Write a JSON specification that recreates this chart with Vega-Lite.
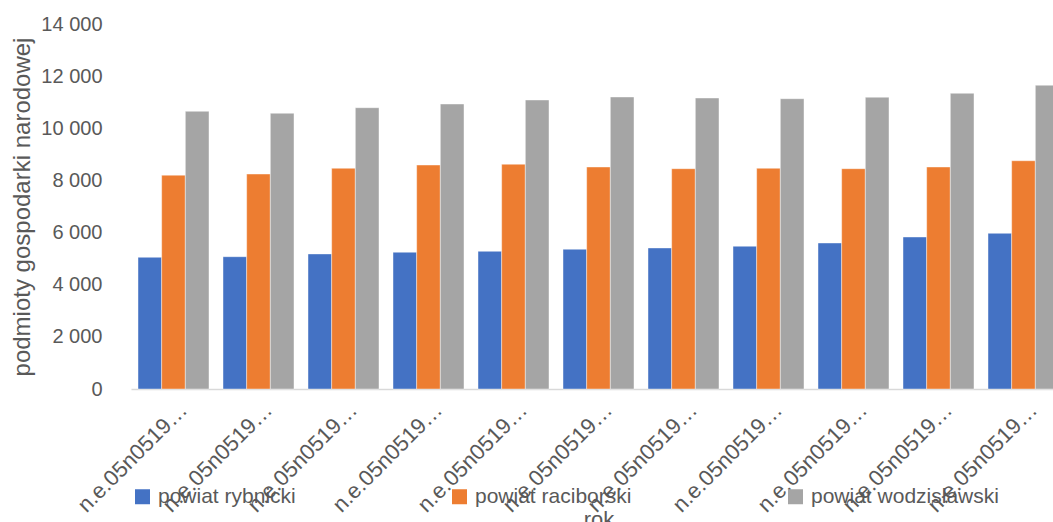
{
  "$schema": "https://vega.github.io/schema/vega-lite/v6.json",
  "autosize": "none",
  "width": 922,
  "height": 365,
  "padding": {"left": 131, "top": 24, "right": 0, "bottom": 133},
  "background": "#ffffff",
  "config": {
    "view": {"stroke": null},
    "font": "Liberation Sans"
  },
  "data": {
    "values": [
      {"rok": "1", "powiat": "powiat rybnicki", "podmioty": 5050},
      {"rok": "1", "powiat": "powiat raciborski", "podmioty": 8200},
      {"rok": "1", "powiat": "powiat wodzisławski", "podmioty": 10650},
      {"rok": "2", "powiat": "powiat rybnicki", "podmioty": 5075},
      {"rok": "2", "powiat": "powiat raciborski", "podmioty": 8245},
      {"rok": "2", "powiat": "powiat wodzisławski", "podmioty": 10575},
      {"rok": "3", "powiat": "powiat rybnicki", "podmioty": 5180},
      {"rok": "3", "powiat": "powiat raciborski", "podmioty": 8465},
      {"rok": "3", "powiat": "powiat wodzisławski", "podmioty": 10790},
      {"rok": "4", "powiat": "powiat rybnicki", "podmioty": 5245},
      {"rok": "4", "powiat": "powiat raciborski", "podmioty": 8590},
      {"rok": "4", "powiat": "powiat wodzisławski", "podmioty": 10930},
      {"rok": "5", "powiat": "powiat rybnicki", "podmioty": 5280},
      {"rok": "5", "powiat": "powiat raciborski", "podmioty": 8620},
      {"rok": "5", "powiat": "powiat wodzisławski", "podmioty": 11085},
      {"rok": "6", "powiat": "powiat rybnicki", "podmioty": 5360},
      {"rok": "6", "powiat": "powiat raciborski", "podmioty": 8515},
      {"rok": "6", "powiat": "powiat wodzisławski", "podmioty": 11200},
      {"rok": "7", "powiat": "powiat rybnicki", "podmioty": 5410},
      {"rok": "7", "powiat": "powiat raciborski", "podmioty": 8450},
      {"rok": "7", "powiat": "powiat wodzisławski", "podmioty": 11160},
      {"rok": "8", "powiat": "powiat rybnicki", "podmioty": 5475},
      {"rok": "8", "powiat": "powiat raciborski", "podmioty": 8465},
      {"rok": "8", "powiat": "powiat wodzisławski", "podmioty": 11135},
      {"rok": "9", "powiat": "powiat rybnicki", "podmioty": 5600},
      {"rok": "9", "powiat": "powiat raciborski", "podmioty": 8450},
      {"rok": "9", "powiat": "powiat wodzisławski", "podmioty": 11190},
      {"rok": "10", "powiat": "powiat rybnicki", "podmioty": 5830},
      {"rok": "10", "powiat": "powiat raciborski", "podmioty": 8515},
      {"rok": "10", "powiat": "powiat wodzisławski", "podmioty": 11340},
      {"rok": "11", "powiat": "powiat rybnicki", "podmioty": 5970},
      {"rok": "11", "powiat": "powiat raciborski", "podmioty": 8755},
      {"rok": "11", "powiat": "powiat wodzisławski", "podmioty": 11650}
    ]
  },
  "mark": {"type": "bar", "stroke": "#ffffff", "strokeWidth": 0.7, "strokeOpacity": 0.6},
  "encoding": {
    "x": {
      "field": "rok",
      "type": "nominal",
      "sort": null,
      "scale": {"range": [0, 935], "paddingInner": 0.165, "paddingOuter": 0.0825},
      "axis": {
        "title": "rok",
        "titleFontSize": 22,
        "titleFontWeight": "normal",
        "titleColor": "#595959",
        "titleY": 120,
        "titleBaseline": "top",
        "labelExpr": "'n.e.05n0519…'",
        "labelAngle": -45,
        "labelAlign": "right",
        "labelBaseline": "middle",
        "labelFontSize": 22,
        "labelColor": "#595959",
        "labelPadding": 17,
        "labelOffset": 10,
        "labelLimit": 300,
        "ticks": false,
        "domainColor": "#D9D9D9",
        "domainWidth": 1.5
      }
    },
    "xOffset": {
      "field": "powiat",
      "type": "nominal",
      "sort": ["powiat rybnicki", "powiat raciborski", "powiat wodzisławski"]
    },
    "y": {
      "field": "podmioty",
      "type": "quantitative",
      "scale": {"domain": [0, 14000], "nice": false},
      "axis": {
        "title": "podmioty gospodarki narodowej",
        "titleFontSize": 24,
        "titleFontWeight": "normal",
        "titleColor": "#595959",
        "titleX": -121,
        "titleBaseline": "top",
        "values": [0, 2000, 4000, 6000, 8000, 10000, 12000, 14000],
        "labelExpr": "replace(format(datum.value, ','), ',', ' ')",
        "labelFontSize": 20,
        "labelColor": "#595959",
        "labelPadding": 29,
        "ticks": false,
        "domain": false,
        "grid": false
      }
    },
    "color": {
      "field": "powiat",
      "type": "nominal",
      "scale": {
        "domain": ["powiat rybnicki", "powiat raciborski", "powiat wodzisławski"],
        "range": ["#4472C4", "#ED7D31", "#A5A5A5"]
      },
      "legend": {
        "title": null,
        "orient": "none",
        "legendX": 1,
        "legendY": 462,
        "direction": "horizontal",
        "symbolType": "square",
        "symbolSize": 225,
        "symbolStrokeWidth": 0,
        "labelFontSize": 21,
        "labelColor": "#595959",
        "labelOffset": 5,
        "columnPadding": 153,
        "labelLimit": 400
      }
    }
  }
}
